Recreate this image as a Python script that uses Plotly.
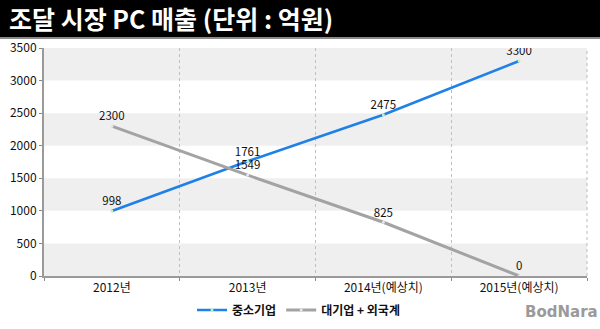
import plotly.graph_objects as go

categories = ["2012년", "2013년", "2014년(예상치)", "2015년(예상치)"]
sme_sales = [998, 1761, 2475, 3300]
large_foreign_sales = [2300, 1549, 825, 0]
y_ticks = [0, 500, 1000, 1500, 2000, 2500, 3000, 3500]

FONT = "Noto Sans CJK KR"

fig = go.Figure()

fig.add_trace(go.Scatter(
    x=categories, y=sme_sales, name="<b>중소기업</b>",
    mode="lines+markers+text",
    text=[str(v) for v in sme_sales], textposition="top center",
    textfont=dict(size=11.5, color="#111", family=FONT),
    line=dict(color="#1f80e8", width=2.6),
    marker=dict(size=3, color="#c8f0b0"),
))
fig.add_trace(go.Scatter(
    x=categories, y=large_foreign_sales, name="<b>대기업 + 외국계</b>",
    mode="lines+markers+text",
    text=[str(v) for v in large_foreign_sales], textposition="top center",
    textfont=dict(size=11.5, color="#111", family=FONT),
    line=dict(color="#a3a3a3", width=3),
    marker=dict(size=3, color="#e8e8e8"),
))

# alternating horizontal bands
shapes = []
for i in range(len(y_ticks) - 1):
    if (len(y_ticks) - 2 - i) % 2 == 0:
        shapes.append(dict(type="rect", xref="paper", yref="y", x0=0, x1=1,
                           y0=y_ticks[i], y1=y_ticks[i + 1],
                           fillcolor="#efefef", line=dict(width=0), layer="below"))

# title bar
H = 228.0
W = 543.0
shapes.append(dict(type="rect", xref="paper", yref="paper",
                   x0=-44 / W, x1=556 / W, y0=(276 - 37) / H, y1=(276 + 2) / H + 0.02,
                   fillcolor="#000000", line=dict(width=0), layer="above"))
shapes.append(dict(type="line", xref="paper", yref="paper",
                   x0=-44 / W, x1=556 / W, y0=(276 - 38) / H, y1=(276 - 38) / H,
                   line=dict(color="#8a8a8a", width=2), layer="above"))
# right edge dotted line
shapes.append(dict(type="line", xref="paper", yref="paper", x0=1, x1=1, y0=0, y1=1,
                   line=dict(color="#bbbbbb", width=1, dash="dot")))

fig.update_layout(
    width=600, height=329,
    margin=dict(l=44, r=13, t=48, b=53, autoexpand=False),
    paper_bgcolor="white", plot_bgcolor="white",
    font=dict(family=FONT, size=12, color="#111"),
    shapes=shapes,
    showlegend=True,
    legend=dict(orientation="h", x=0.5 - 17 / W, xanchor="center", y=(276 - 310) / H,
                yanchor="middle", bgcolor="rgba(0,0,0,0)",
                font=dict(size=12, color="#111", family=FONT), itemwidth=30),
    annotations=[
        dict(text="<b>조달 시장 PC 매출 (단위 : 억원)</b>", xref="paper", yref="paper",
             x=-37 / W, y=(276 - 18) / H, xanchor="left", yanchor="middle",
             showarrow=False, font=dict(size=25, color="white", family=FONT)),
        dict(text="<b>BodNara</b>", xref="paper", yref="paper",
             x=(600 - 44) / W, y=(276 - 312) / H, xanchor="right", yanchor="middle",
             showarrow=False, font=dict(size=15, color="#9a9a9a", family="DejaVu Sans")),
    ],
)

fig.update_xaxes(
    type="category", range=[-0.5, 3.5],
    tickson="boundaries", ticks="outside", ticklen=3, tickcolor="#888",
    showline=True, linecolor="#9a9a9a", linewidth=2,
    showgrid=True, gridcolor="#c0c0c0", griddash="dot", gridwidth=1,
    tickfont=dict(size=12, color="#111"),
)
fig.update_yaxes(
    range=[0, 3500], tickvals=y_ticks, ticks="outside", ticklen=3, tickcolor="#888",
    showline=True, linecolor="#9a9a9a", linewidth=2,
    showgrid=False, zeroline=False,
    tickfont=dict(size=12, color="#111"),
)

fig.write_html("out.html")
